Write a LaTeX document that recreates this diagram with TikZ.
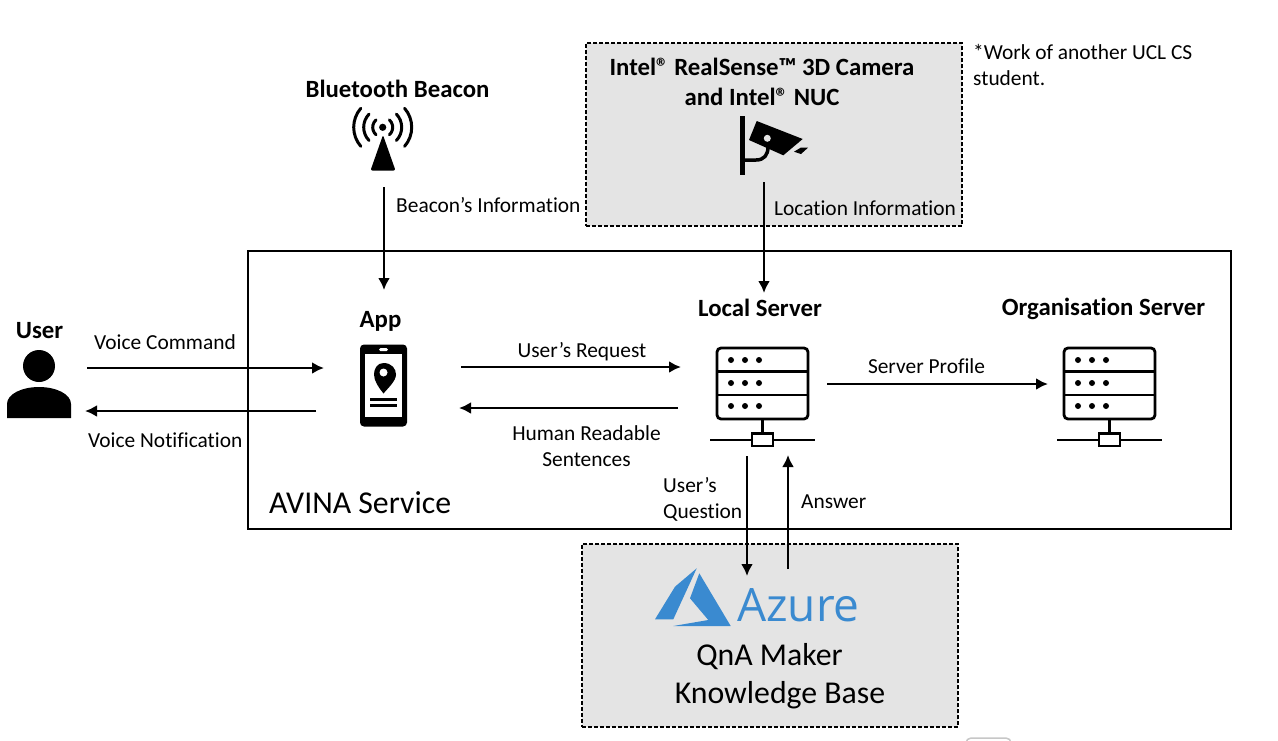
\documentclass[tikz,border=0pt]{standalone}
\usepackage{fontspec}
\setmainfont[Ligatures=NoCommon]{Carlito}
\newfontfamily\azurefont{Open Sans}
\definecolor{panel}{HTML}{E4E4E4}
\definecolor{azureblue}{HTML}{3A8AD0}
\usetikzlibrary{arrows.meta}
\tikzset{
  x=1pt,y=-1pt,
  conn/.style={line width=2.9pt,-{Latex[length=12pt,width=12pt]}},
  lab/.style={font=\fontsize{21.4}{26}\selectfont,inner sep=0pt,align=center,text=black},
  head/.style={font=\fontsize{24.8}{30}\selectfont\bfseries,inner sep=0pt,align=center,text=black},
  big/.style={font=\fontsize{31.8}{38}\selectfont,inner sep=0pt,align=center,text=black},
  dashbox/.style={fill=panel,draw=black,line width=1.5pt,dash pattern=on 4pt off 2pt},
  serverpic/.pic={
    \draw[line width=2.8pt,rounded corners=4pt] (717,348) rectangle (808,419);
    \draw[line width=2.8pt] (717,371.5) -- (808,371.5) (717,395) -- (808,395);
    \foreach \py in {360,383,406}{\foreach \px in {731,745,759}{\fill (\px,\py) circle (3pt);}}
    \draw[line width=2.8pt] (762.5,419) -- (762.5,433);
    \draw[line width=2.8pt] (710,440) -- (752,440) (773,440) -- (815,440);
    \draw[line width=2.8pt,fill=white] (752,433.5) rectangle (773,446);
  }
}
\begin{document}
\begin{tikzpicture}
\useasboundingbox (0,0) rectangle (1278,740);
\fill[white] (0,0) rectangle (1278,740);

% panels
\node[dashbox,inner sep=0pt,minimum width=376pt,minimum height=183pt] (cambox) at (774,134.5) {};
\node[dashbox,inner sep=0pt,minimum width=376pt,minimum height=183pt] (azbox) at (770,635.5) {};
\node[draw=black,line width=1.5pt,inner sep=0pt,minimum width=983pt,minimum height=278pt] (avina) at (739.5,390) {};

% stray grey outline at bottom edge
\begin{scope}
\clip (900,730) rectangle (1100,740);
\draw[draw=black!22,line width=1.5pt,rounded corners=5pt] (966,750) -- (966,738) -- (1011,738) -- (1011,750);
\end{scope}

% labels
\node[head] (tbeacon) at (397.5,88.5) {Bluetooth Beacon};
\node[head,align=center] (tcam) at (762,82) {Intel® RealSense™ 3D Camera\\and Intel® NUC};
\node[head] (tapp) at (380.5,321.5) {App};
\node[head] (tlocal) at (760,307.5) {Local Server};
\node[head] (torg) at (1103.5,309) {Organisation Server};
\node[head] (tuser) at (39.5,331) {User};
\node[lab,anchor=west] (tnote1) at (973,52) {*Work of another UCL CS};
\node[lab,anchor=west] (tnote2) at (973,78) {student.};
\node[lab,anchor=west] (lbeacon) at (396,205) {Beacon’s Information};
\node[lab,anchor=west] (lloc) at (774,208) {Location Information};
\node[lab,anchor=west] (lvc) at (94,342) {Voice Command};
\node[lab,anchor=west] (lvn) at (88,440) {Voice Notification};
\node[lab] (lreq) at (582,351.5) {User’s Request};
\node[lab] (lhuman) at (586.5,446) {Human Readable\\Sentences};
\node[lab] (lprofile) at (926.5,366.5) {Server Profile};
\node[lab,align=left,anchor=west] (lquest) at (663,499) {User’s\\Question};
\node[lab,anchor=west] (lans) at (801,501.5) {Answer};
\node[big,anchor=west] (lavina) at (269,503) {AVINA Service};
\node[big,align=center] (lqna1) at (769.5,657) {QnA Maker};
\node[big,align=center] (lqna2) at (780,695) {Knowledge Base};

% user icon
\fill (39,366) circle (16pt);
\fill (7,418) -- (7,404) .. controls (7,394) and (22,387) .. (39,387) .. controls (56,387) and (71,394) .. (71,404) -- (71,418) -- cycle;

% beacon icon
\fill (382.7,127.3) circle (3.6pt);
\begin{scope}[line width=3pt,line cap=round]
\foreach \r/\a in {10/48,19/44,29/41}{
  \draw (382.7,127.3) ++(\a:\r) arc[start angle=\a,end angle=-\a,radius=\r,y=1pt];
  \draw (382.7,127.3) ++(180-\a:\r) arc[start angle=180-\a,end angle=180+\a,radius=\r,y=1pt];
}
\end{scope}
\fill[rounded corners=2pt] (383,135) -- (395.5,170.5) -- (370.5,170.5) -- cycle;

% camera icon
\draw[line width=5pt] (742,116) -- (742,175);
\draw[line width=3.5pt] (742,160) -- (756,160) .. controls (764,160) and (768,155) .. (768,147);
\fill (756.7,121) -- (802.7,139) -- (783.3,155.3) -- (749,140) -- cycle;
\fill[panel] (767.3,138.3) circle (3.5pt);
\fill (801,147.5) -- (808,147.7) -- (801,154) -- (794,151.7) -- cycle;

% phone icon
\fill[rounded corners=4pt] (360,344.5) rectangle (407,426.5);
\fill[white] (365,353.5) rectangle (402,416.5);
\fill[white,rounded corners=1.5pt] (379,348) rectangle (388,351);
\fill (383.5,363) .. controls (392,363) and (396,369) .. (396,374.5) .. controls (396,381) and (388,388) .. (383.5,393.5) .. controls (379,388) and (374,381) .. (374,374.5) .. controls (374,369) and (377,363) .. (383.5,363) -- cycle;
\fill[white] (383.5,372.5) circle (4pt);
\fill (370,397.5) rectangle (397,400.5);
\fill (370,404) rectangle (397,407);

% servers
\pic {serverpic};
\begin{scope}[xshift=347pt]
\pic {serverpic};
\end{scope}

% azure logo
\fill[azureblue] (696.7,568.3) -- (675,586.7) -- (655,619.3) -- (673.3,619.3) -- cycle;
\fill[azureblue] (699.3,573.3) -- (690,598.3) -- (708.3,620) -- (673.3,626) -- (730.7,626) -- cycle;
\node[inner sep=0pt,text=azureblue,font=\azurefont\fontsize{46}{50}\selectfont,anchor=base west] (tazure) at (737,621.5) {Azure};

% connector anchors
\coordinate (a1s) at (384,187); \coordinate (a1e) at (384,290);
\coordinate (a2s) at (764,182); \coordinate (a2e) at (764,293);
\coordinate (a3s) at (87,368); \coordinate (a3e) at (324,368);
\coordinate (a4s) at (316,411); \coordinate (a4e) at (85,411);
\coordinate (a5s) at (461,367); \coordinate (a5e) at (681,367);
\coordinate (a6s) at (678,408); \coordinate (a6e) at (459,408);
\coordinate (a7s) at (827,384); \coordinate (a7e) at (1048,384);
\coordinate (a8s) at (747,456); \coordinate (a8e) at (747,576);
\coordinate (a9s) at (788,569); \coordinate (a9e) at (788,455);
\draw[conn] (a1s) -- (a1e);
\draw[conn] (a2s) -- (a2e);
\draw[conn] (a3s) -- (a3e);
\draw[conn] (a4s) -- (a4e);
\draw[conn] (a5s) -- (a5e);
\draw[conn] (a6s) -- (a6e);
\draw[conn] (a7s) -- (a7e);
\draw[conn] (a8s) -- (a8e);
\draw[conn] (a9s) -- (a9e);
\end{tikzpicture}
\end{document}
